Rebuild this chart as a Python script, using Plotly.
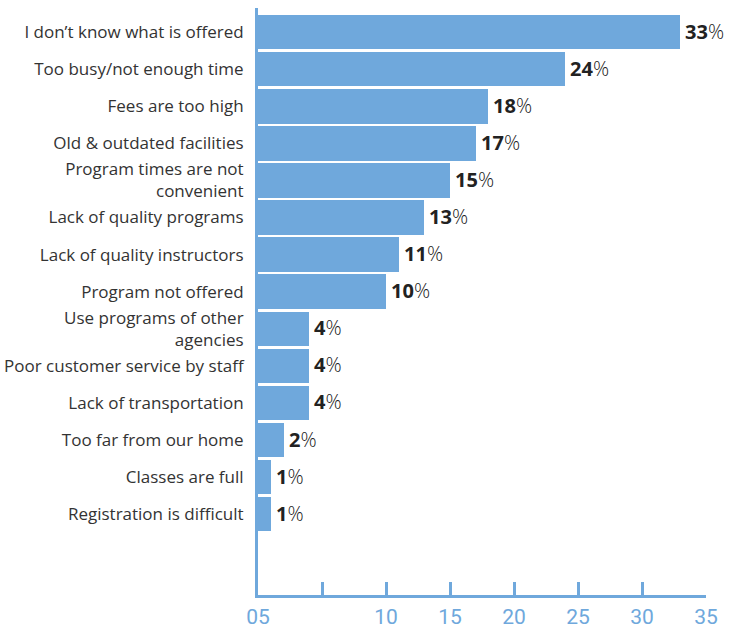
import plotly.graph_objects as go

categories = [
    "I don’t know what is offered",
    "Too busy/not enough time",
    "Fees are too high",
    "Old & outdated facilities",
    "Program times are not<br>convenient",
    "Lack of quality programs",
    "Lack of quality instructors",
    "Program not offered",
    "Use programs of other<br>agencies",
    "Poor customer service by staff",
    "Lack of transportation",
    "Too far from our home",
    "Classes are full",
    "Registration is difficult",
]
values = [33, 24, 18, 17, 15, 13, 11, 10, 4, 4, 4, 2, 1, 1]

tick_vals = [0, 5, 10, 15, 20, 25, 30, 35]
tick_text = ["05", "", "10", "15", "20", "25", "30", "35"]

BLUE = "#6fa8dc"
positions = list(range(len(categories)))

fig = go.Figure()
fig.add_trace(go.Bar(
    x=values,
    y=positions,
    orientation="h",
    marker=dict(color=BLUE, line=dict(width=0)),
    width=0.93,
    hoverinfo="skip",
))

for pos, v in zip(positions, values):
    fig.add_annotation(
        x=v, y=pos, xref="x", yref="y",
        text=f"<b>{v}</b><span style='font-weight:300'>%</span>",
        showarrow=False, xanchor="left", yanchor="middle",
        xshift=3, yshift=1,
        font=dict(family="Open Sans, Arial, sans-serif", size=20, color="#222222"),
    )

fig.update_layout(
    width=732, height=633,
    margin=dict(l=258, r=26, t=8, b=38),
    plot_bgcolor="white", paper_bgcolor="white",
    showlegend=False,
    bargap=0,
)

fig.update_xaxes(
    range=[0, 35],
    tickvals=tick_vals, ticktext=tick_text,
    ticks="inside", ticklen=13, tickwidth=3, tickcolor=BLUE,
    showline=True, linecolor=BLUE, linewidth=3,
    showgrid=False, zeroline=False,
    tickfont=dict(family="Liberation Sans Narrow, Roboto, sans-serif", size=21, color=BLUE),
    ticklabelstandoff=1,
    automargin=False,
)

fig.update_yaxes(
    range=[15.18, -0.65],
    tickvals=positions, ticktext=categories,
    ticks="", showline=True, linecolor=BLUE, linewidth=3,
    showgrid=False, zeroline=False,
    tickfont=dict(family="Open Sans, Arial, sans-serif", size=17, color="#333333"),
    ticklabelstandoff=8,
    automargin=False,
)

fig.write_html("out.html")
